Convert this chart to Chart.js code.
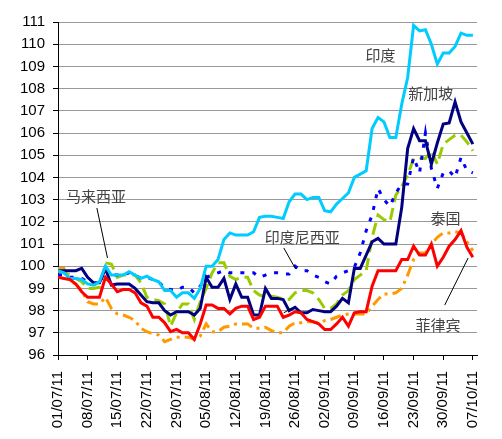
<!DOCTYPE html>
<html>
<head>
<meta charset="utf-8">
<script src="https://cdn.jsdelivr.net/npm/chart.js@4"></script>
<style>
  body { margin: 0; background: #fff; }
  #wrap { width: 502px; height: 439px; position: relative; }
</style>
</head>
<body>
<div id="wrap"><canvas id="myChart"></canvas></div>
<script>
// weekly tick labels (one every 5 trading days)
var tickLabels = ['01/07/11', '08/07/11', '15/07/11', '22/07/11', '29/07/11', '05/08/11', '12/08/11', '19/08/11',
    '26/08/11', '02/09/11', '09/09/11', '16/09/11', '23/09/11', '30/09/11', '07/10/11'];

// daily index values, 01/07/11 = 100 area
var india = [99.8, 99.7, 99.45, 99.45, 99.4, 99.2, 99.15, 99.3, 100.0, 99.6,
    99.6, 99.6, 99.75, 99.6, 99.45, 99.55, 99.4, 99.3, 98.9, 98.9,
    98.6, 98.8, 98.8, 98.55, 99.0, 100.0, 100.0, 100.3, 101.2, 101.5,
    101.4, 101.4, 101.4, 101.55, 102.2, 102.25, 102.25, 102.2, 102.15, 102.9,
    103.25, 103.25, 103.0, 103.1, 103.1, 102.5, 102.45, 102.8, 103.05, 103.3,
    104.0, 104.15, 104.3, 106.2, 106.7, 106.5, 105.8, 105.8, 107.3, 108.5,
    110.85, 110.6, 110.65, 110.0, 109.1, 109.6, 109.6, 109.9, 110.5, 110.4,
    110.4];
var singapore = [99.8, 99.8, 99.8, 99.8, 99.9, 99.5, 99.25, 99.25, 99.9, 99.15,
    99.2, 99.2, 99.2, 99.0, 98.7, 98.4, 98.35, 98.35, 98.0, 97.8,
    97.95, 97.95, 97.95, 97.8, 98.1, 99.5, 99.05, 99.05, 99.45, 98.5,
    99.2, 98.6, 98.6, 97.8, 97.8, 99.0, 98.55, 98.55, 98.5, 98.0,
    98.15, 97.9, 97.9, 98.05, 98.0, 97.95, 97.95, 98.2, 98.55, 98.35,
    99.9, 99.9, 100.5, 101.1, 101.25, 101.0, 101.0, 101.0, 102.65, 105.3,
    106.2, 105.65, 105.65, 104.6, 105.55, 106.4, 106.45, 107.4, 106.5, 106.0,
    105.5];
var indonesia = [99.6, 99.6, 99.5, 99.5, 99.45, 99.3, 99.2, 99.2, 99.9, 99.6,
    99.6, 99.6, 99.7, 99.6, 99.45, 99.5, 99.4, 99.3, 99.0, 98.95,
    98.9, 99.05, 99.05, 98.8, 99.1, 99.5, 99.6, 99.7, 99.8, 99.7,
    99.7, 99.7, 99.7, 99.7, 99.5, 99.6, 99.7, 99.7, 99.65, 99.65,
    100.0, 99.8, 99.8, 99.6, 99.5, 99.3, 99.2, 99.55, 99.7, 99.8,
    99.95, 100.6, 101.6, 102.3, 103.5, 103.0, 102.7, 103.3, 103.7, 103.7,
    104.9, 104.2, 106.0, 104.4, 103.5, 104.2, 104.3, 104.0, 104.9, 104.3,
    104.2];
var malaysia = [99.75, 99.7, 99.6, 99.45, 99.3, 99.0, 99.0, 99.05, 100.15, 100.1,
    99.5, 99.6, 99.6, 99.6, 99.25, 98.6, 98.5, 98.45, 98.3, 97.3,
    97.9, 98.3, 98.3, 97.6, 98.4, 99.0, 99.7, 100.15, 100.15, 99.55,
    99.4, 99.5, 99.5, 98.9, 98.7, 98.65, 98.65, 98.6, 98.5, 98.5,
    98.8, 98.9, 98.9, 98.8, 98.5, 98.1, 98.1, 98.3, 98.7, 98.9,
    99.4, 99.6, 99.8, 101.3, 102.3, 102.1, 102.0, 103.2, 103.6, 104.1,
    104.85, 104.85, 104.85, 105.2, 104.6, 105.5, 105.7, 105.9, 105.9, 105.6,
    105.2];
var thailand = [99.9, 99.9, 99.3, 99.2, 98.9, 98.4, 98.3, 98.3, 98.6, 98.1,
    97.85, 97.8, 97.7, 97.55, 97.2, 97.05, 96.95, 96.9, 96.6, 96.7,
    96.8, 96.8, 96.8, 96.7, 96.85, 97.4, 97.05, 97.05, 97.25, 97.3,
    97.4, 97.4, 97.4, 97.2, 97.2, 97.25, 97.1, 97.0, 97.0, 97.3,
    97.45, 97.45, 97.5, 97.5, 97.45, 97.55, 97.6, 97.7, 97.8, 97.85,
    97.85, 97.85, 97.85, 98.2, 98.5, 98.75, 98.75, 98.8, 99.0, 99.6,
    100.3, 100.6, 100.6, 101.0, 101.3, 101.5, 101.5, 101.55, 101.5, 101.1,
    100.7];
var philippines = [99.5, 99.45, 99.4, 99.2, 98.85, 98.6, 98.6, 98.6, 99.5, 99.2,
    98.85, 98.95, 98.95, 98.8, 98.35, 98.2, 97.7, 97.7, 97.45, 97.05,
    97.15, 97.0, 97.0, 96.7, 97.4, 98.25, 98.25, 98.1, 98.1, 97.85,
    98.1, 98.2, 98.2, 97.6, 97.7, 98.2, 98.2, 98.2, 97.7, 97.8,
    97.95, 97.9, 97.6, 97.5, 97.4, 97.15, 97.15, 97.4, 97.7, 97.3,
    97.9, 97.95, 97.95, 99.1, 99.8, 99.8, 99.8, 99.8, 100.3, 100.3,
    100.9, 100.5, 100.5, 101.0, 100.0, 100.4, 100.9, 101.2, 101.6, 100.85,
    100.4];

// text labels and leader lines, in data units (x = trading day index)
var notes = [
    { text: '印度', x: 54.4, y: 109.5 },
    { text: '新加坡', x: 62.9, y: 107.8 },
    { text: '印度尼西亚', x: 41.2, y: 101.32 },
    { text: '马来西亚', x: 6.4, y: 103.16 },
    { text: '泰国', x: 65.4, y: 102.17 },
    { text: '菲律宾', x: 64.1, y: 97.35 }
];
var leaders = [
    [6.56, 102.62, 8.35, 100.37],
    [38.1, 100.82, 40.1, 99.87],
    [38.1, 97.9, 39.4, 98.1],
    [65.25, 98.25, 69.2, 100.37]
];

function pts(arr) {
    return arr.map(function (v, i) { return { x: i, y: v }; });
}

function series(label, arr, color, dash) {
    return {
        label: label,
        data: pts(arr),
        borderColor: color,
        backgroundColor: color,
        borderWidth: 3,
        borderDash: dash || [],
        borderCapStyle: 'butt',
        pointRadius: 0,
        tension: 0,
        fill: false
    };
}

var notePlugin = {
    id: 'notes',
    afterDatasetsDraw: function (chart) {
        var c = chart.ctx, xs = chart.scales.x, ys = chart.scales.y;
        c.save();
        c.strokeStyle = '#000';
        c.lineWidth = 1;
        leaders.forEach(function (l) {
            c.beginPath();
            c.moveTo(xs.getPixelForValue(l[0]), ys.getPixelForValue(l[1]));
            c.lineTo(xs.getPixelForValue(l[2]), ys.getPixelForValue(l[3]));
            c.stroke();
        });
        c.fillStyle = '#444';
        c.font = '15px "Noto Sans CJK SC"';
        c.textAlign = 'center';
        c.textBaseline = 'middle';
        notes.forEach(function (n) {
            c.fillText(n.text, xs.getPixelForValue(n.x), ys.getPixelForValue(n.y));
        });
        c.restore();
    }
};

var ctx = document.getElementById('myChart').getContext('2d');
var myChart = new Chart(ctx, {
    type: 'line',
    data: {
        datasets: [
            series('菲律宾', philippines, '#FF0000'),
            series('印度', india, '#00CCFF'),
            series('新加坡', singapore, '#000080'),
            series('印度尼西亚', indonesia, '#0000FF', [4, 8]),
            series('马来西亚', malaysia, '#99CC00', [12, 6]),
            series('泰国', thailand, '#FF9900', [11, 5, 3, 5])
        ]
    },
    plugins: [notePlugin],
    options: {
        responsive: true,
        maintainAspectRatio: false,
        animation: false,
        layout: { padding: { top: 22, right: 14, left: 0, bottom: 0 } },
        plugins: {
            legend: { display: false },
            tooltip: { enabled: false }
        },
        scales: {
            x: {
                type: 'linear',
                min: 0,
                max: 70.7,
                afterFit: function (s) { s.height = 84; },
                grid: { drawOnChartArea: false, tickLength: 5, tickColor: '#000' },
                border: { color: '#000', width: 1 },
                ticks: {
                    stepSize: 5,
                    includeBounds: false,
                    autoSkip: false,
                    maxRotation: 90,
                    minRotation: 90,
                    padding: 11,
                    color: '#000',
                    font: { family: '"Liberation Sans", Arial', size: 15 },
                    callback: function (v) { return v % 5 === 0 ? tickLabels[v / 5] : ''; }
                }
            },
            y: {
                min: 96,
                max: 111,
                afterFit: function (s) { s.width = 58; },
                grid: { color: '#999', tickLength: 5, tickColor: '#000' },
                border: { color: '#000', width: 1 },
                ticks: {
                    stepSize: 1,
                    padding: 8,
                    color: '#000',
                    font: { family: '"Liberation Sans", Arial', size: 15 }
                }
            }
        }
    }
});
</script>
</body>
</html>
